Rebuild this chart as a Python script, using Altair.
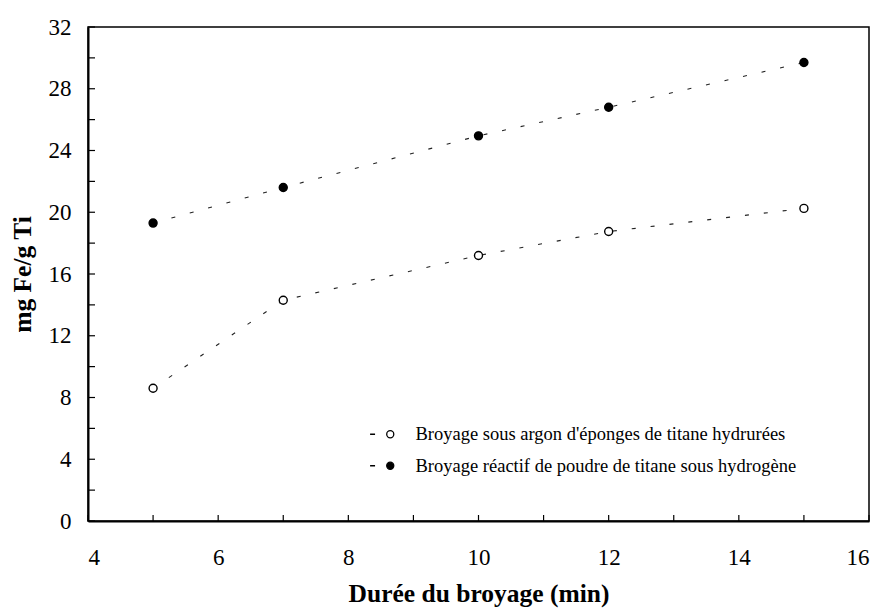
import altair as alt
import pandas as pd

durations = [5, 7, 10, 12, 15]
argon = [8.6, 14.3, 17.2, 18.75, 20.25]
hydrogen = [19.3, 21.6, 24.95, 26.8, 29.7]
series_names = [
    "Broyage sous argon d'éponges de titane hydrurées",
    "Broyage réactif de poudre de titane sous hydrogène",
]
y_ticks = list(range(0, 33, 2))
x_ticks = list(range(4, 17, 1))
y_labels = list(range(0, 33, 4))
x_labels = list(range(4, 17, 2))

rows = []
for name, vals in zip(series_names, [argon, hydrogen]):
    for d, v in zip(durations, vals):
        rows.append({"duree": d, "mg": v, "serie": name})
df = pd.DataFrame(rows)

FONT = "Liberation Serif"
W, H = 781, 494

xscale = alt.Scale(domain=[4, 16], nice=False, zero=False)
yscale = alt.Scale(domain=[0, 32], nice=False)

symbol_path = "M-5.7,0L-4.3,0M1,0A1,1,0,1,1,-1,0A1,1,0,1,1,1,0Z"

base = alt.Chart(df)

lines = base.mark_line(color="#222", strokeWidth=1.1, strokeDash=[4, 15]).encode(
    x=alt.X("duree:Q", scale=xscale,
            axis=alt.Axis(values=x_labels, format="d", title="Durée du broyage (min)", ticks=False,
                          grid=False, labelPadding=25, titleY=60, titleBaseline="top")),
    y=alt.Y("mg:Q", scale=yscale,
            axis=alt.Axis(values=y_labels, format="d", title="mg Fe/g Ti", ticks=False,
                          grid=False, labelPadding=17, titleX=-66, titleBaseline="middle")),
    detail="serie:N",
)

points = base.mark_point(filled=True, size=64, stroke="black", strokeWidth=1.4, opacity=1).encode(
    x=alt.X("duree:Q", scale=xscale),
    y=alt.Y("mg:Q", scale=yscale),
    fill=alt.Fill("serie:N",
                  scale=alt.Scale(domain=series_names, range=["white", "black"]),
                  legend=alt.Legend(title=None, orient="none", legendX=293, legendY=398,
                                    symbolType=symbol_path, symbolSize=50,
                                    symbolStrokeColor="black", symbolStrokeWidth=1.3,
                                    labelFont=FONT, labelFontSize=18.5, labelColor="black",
                                    labelOffset=16, rowPadding=12.5, padding=0,
                                    labelLimit=600)),
)

ytick_df = pd.DataFrame({"v": y_ticks})
xtick_df = pd.DataFrame({"v": x_ticks})

yticks = alt.Chart(ytick_df).mark_rule(color="black", strokeWidth=1.2).encode(
    y=alt.Y("v:Q", scale=yscale),
    x=alt.value(0), x2=alt.value(7),
)
xticks = alt.Chart(xtick_df).mark_rule(color="black", strokeWidth=1.2).encode(
    x=alt.X("v:Q", scale=xscale),
    y=alt.value(H), y2=alt.value(H - 6),
)

chart = alt.layer(lines, points, yticks, xticks).properties(
    width=W, height=H,
    autosize=alt.AutoSizeParams(type="none"),
    padding={"left": 80, "top": 19, "right": 8, "bottom": 90},
).configure_view(
    stroke="black", strokeWidth=1.5,
).configure_axis(
    labelFont=FONT, labelFontSize=23, labelColor="black",
    titleFont=FONT, titleFontSize=25.5, titleFontWeight="bold", titleColor="black",
    domainColor="black", domainWidth=2,
)

chart.save("out.html", embed_options={"renderer": "svg", "actions": False})
